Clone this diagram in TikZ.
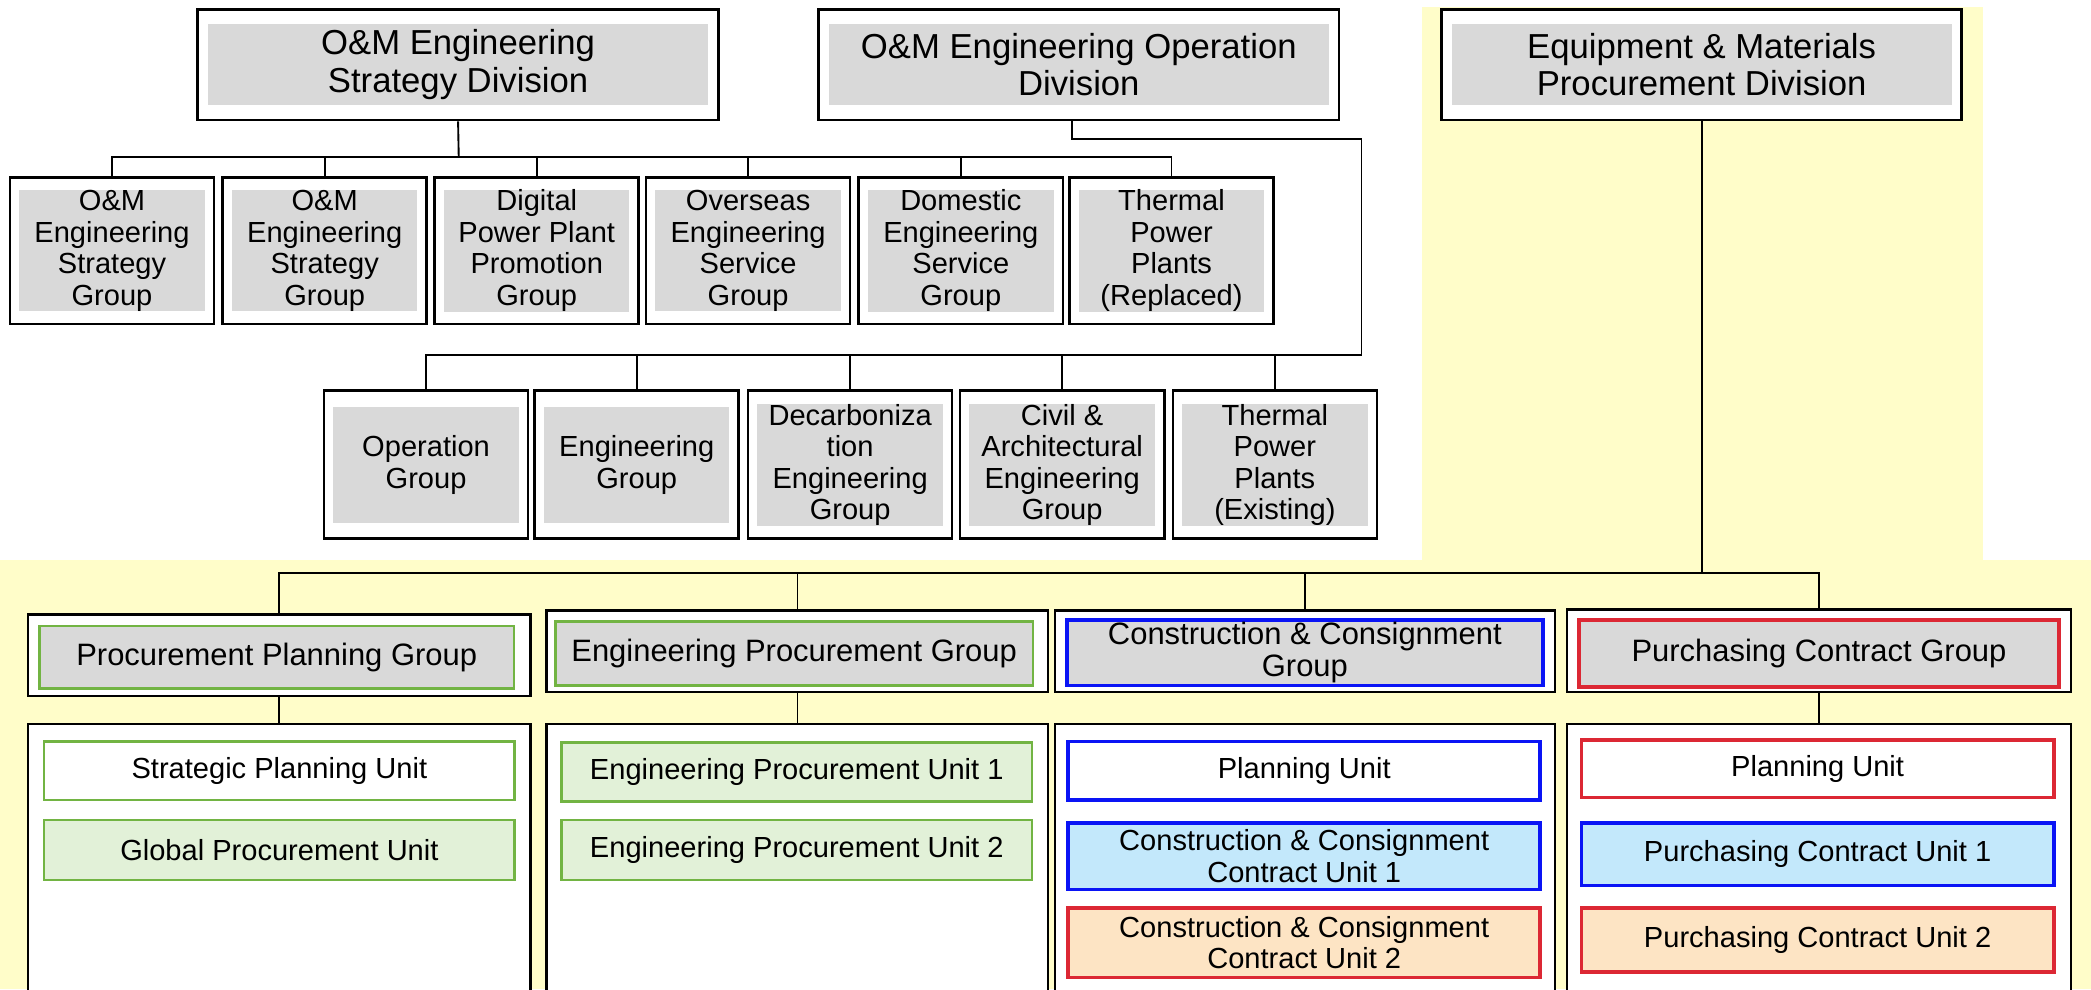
\documentclass[tikz,border=0pt]{standalone}
\usepackage{fontspec}
\setmainfont{Liberation Sans}
\definecolor{boxgray}{HTML}{D9D9D9}
\definecolor{bgyellow}{HTML}{FFFDC9}
\definecolor{unitgreen}{HTML}{72B443}
\definecolor{lightgreen}{HTML}{E2F1D8}
\definecolor{unitblue}{HTML}{0A14F5}
\definecolor{lightblue}{HTML}{C3E8FB}
\definecolor{unitred}{HTML}{DC2834}
\definecolor{peach}{HTML}{FDE4C4}
\newcommand{\pxu}{0.025cm}

\begin{document}
\begin{tikzpicture}[x=0.025cm, y=-0.025cm, line width=1pt,
    frame/.style 2 args={draw, line width=1.4pt, fill=white, inner sep=0pt,
                         minimum width=#1*\pxu, minimum height=#2*\pxu},
    graybox/.style 2 args={fill=boxgray, inner sep=0pt, align=center,
                           minimum width=#1*\pxu, minimum height=#2*\pxu},
    unitbox/.style 2 args={draw, inner sep=0pt, align=center,
                           minimum width=#1*\pxu, minimum height=#2*\pxu},
    divtext/.style={font=\fontsize{18.5}{20}\selectfont},
    grptext/.style={font=\fontsize{15.5}{16.8}\selectfont},
    sectext/.style={font=\fontsize{16.5}{17.2}\selectfont},
    greenline/.style={draw=unitgreen, line width=1.4pt},
    blueline/.style={draw=unitblue, line width=2pt},
    redline/.style={draw=unitred, line width=2pt}]

    \useasboundingbox (0,0) rectangle (1568,742);
    \clip (0,0) rectangle (1568,742);

    % Yellow background
    \fill[bgyellow] (1066,5) rectangle (1487,420);
    \fill[bgyellow] (0,420) rectangle (1568,742);

    % Divisions
    \node[frame={391}{83}] (esd) at (343.5,48.5) {};
    \node[graybox={375}{61}, divtext] (esdT) at (esd) {O\&M Engineering\\Strategy Division};
    \node[frame={390}{83}] (eod) at (809,48.5) {};
    \node[graybox={375}{61}, divtext] (eodT) at (eod) {O\&M Engineering Operation\\Division};
    \node[frame={390}{83}] (emp) at (1276,48.5) {};
    \node[graybox={375}{61}, divtext] (empT) at (emp) {Equipment \& Materials\\Procurement Division};

    % Groups of the strategy division
    \node[frame={153}{110}] (ga) at (84,188) {};
    \node[graybox={139}{86}, grptext] (gaT) at (ga) {O\&M\\Engineering\\Strategy\\Group};
    \node[frame={153}{110}] (gb) at (243.5,188) {};
    \node[graybox={139}{86}, grptext] (gbT) at (gb) {O\&M\\Engineering\\Strategy\\Group};
    \node[frame={153}{110}] (gc) at (402.5,188) {};
    \node[graybox={139}{86}, grptext] (gcT) at (gc) {Digital\\Power Plant\\Promotion\\Group};
    \node[frame={153}{110}] (gd) at (561,188) {};
    \node[graybox={139}{86}, grptext] (gdT) at (gd) {Overseas\\Engineering\\Service\\Group};
    \node[frame={153}{110}] (ge) at (720.5,188) {};
    \node[graybox={139}{86}, grptext] (geT) at (ge) {Domestic\\Engineering\\Service\\Group};
    \node[frame={153}{110}] (gf) at (878.5,188) {};
    \node[graybox={139}{86}, grptext] (gfT) at (gf) {Thermal\\Power\\Plants\\(Replaced)};

    % Groups of the operation division
    \node[frame={153}{111}] (ha) at (319.5,348.5) {};
    \node[graybox={139}{87}, grptext] (haT) at (ha) {Operation\\Group};
    \node[frame={153}{111}] (hb) at (477.5,348.5) {};
    \node[graybox={139}{87}, grptext] (hbT) at (hb) {Engineering\\Group};
    \node[frame={153}{111}] (hc) at (637.5,348.5) {};
    \node[graybox={139}{87}, grptext] (hcT) at (hc) {Decarboniza\\tion\\Engineering\\Group};
    \node[frame={153}{111}] (hd) at (796.5,348.5) {};
    \node[graybox={139}{87}, grptext] (hdT) at (hd) {Civil \&\\Architectural\\Engineering\\Group};
    \node[frame={153}{111}] (he) at (956,348.5) {};
    \node[graybox={139}{87}, grptext] (heT) at (he) {Thermal\\Power\\Plants\\(Existing)};

    % Groups of the procurement division
    \node[frame={377}{61}] (pa) at (209.5,491.5) {};
    \node[graybox={356}{47}, greenline, sectext] (paT) at (207.5,493) {Procurement Planning Group};
    \node[frame={376}{61}] (pb) at (598,488.5) {};
    \node[graybox={358}{48}, greenline, sectext] (pbT) at (595.5,490) {Engineering Procurement Group};
    \node[frame={375}{61}] (pc) at (978.5,488.5) {};
    \node[graybox={357}{49}, blueline, sectext] (pcT) at (978.5,489.5) {Construction \& Consignment\\Group};
    \node[frame={378}{62}] (pd) at (1364,488) {};
    \node[graybox={360}{50}, redline, sectext] (pdT) at (1364,490) {Purchasing Contract Group};

    % Unit containers
    \node[frame={377}{217}] (ca) at (209.5,651.5) {};
    \node[frame={376}{217}] (cb) at (598,651.5) {};
    \node[frame={375}{217}] (cc) at (978.5,651.5) {};
    \node[frame={378}{217}] (cd) at (1364,651.5) {};

    % Units
    \node[unitbox={353}{44}, greenline, fill=white, grptext] (ua) at (209.5,578) {Strategic Planning Unit};
    \node[unitbox={353}{45}, greenline, fill=lightgreen, grptext] (ub) at (209.5,637.5) {Global Procurement Unit};
    \node[unitbox={353}{44}, greenline, fill=lightgreen, grptext] (va) at (597.5,579) {Engineering Procurement Unit 1};
    \node[unitbox={353}{45}, greenline, fill=lightgreen, grptext] (vb) at (597.5,637.5) {Engineering Procurement Unit 2};
    \node[unitbox={354}{44}, blueline, fill=white, grptext] (wa) at (978,578) {Planning Unit};
    \node[unitbox={354}{50}, blueline, fill=lightblue, grptext] (wb) at (978,642) {Construction \& Consignment\\Contract Unit 1};
    \node[unitbox={354}{52}, redline, fill=peach, grptext] (wc) at (978,707) {Construction \& Consignment\\Contract Unit 2};
    \node[unitbox={354}{43}, redline, fill=white, grptext] (xa) at (1363,576.5) {Planning Unit};
    \node[unitbox={354}{47}, blueline, fill=lightblue, grptext] (xb) at (1363,640.5) {Purchasing Contract Unit 1};
    \node[unitbox={354}{48}, redline, fill=peach, grptext] (xc) at (1363,705) {Purchasing Contract Unit 2};

    % Connectors
    \coordinate (busA) at (344,118);
    \draw (esd.south) -- (busA);
    \draw (ga.north) |- (busA);
    \draw (gb.north) |- (busA);
    \draw (gc.north) |- (busA);
    \draw (gd.north) |- (busA);
    \draw (ge.north) |- (busA);
    \draw (gf.north) |- (busA);

    \coordinate (busB) at (1021,266);
    \draw ([xshift=-5*\pxu]eod.south) -- ++(0,13) -| (busB);
    \draw (ha.north) |- (busB);
    \draw (hb.north) |- (busB);
    \draw (hc.north) |- (busB);
    \draw (hd.north) |- (busB);
    \draw (he.north) |- (busB);

    \coordinate (busC) at (1276,430);
    \draw (emp.south) -- (busC);
    \draw (pa.north) |- (busC);
    \draw (pb.north) |- (busC);
    \draw (pc.north) |- (busC);
    \draw (pd.north) |- (busC);

    \draw (pa.south) -- (ca.north);
    \draw (pb.south) -- (cb.north);
    \draw (pd.south) -- (cd.north);
\end{tikzpicture}
\end{document}
